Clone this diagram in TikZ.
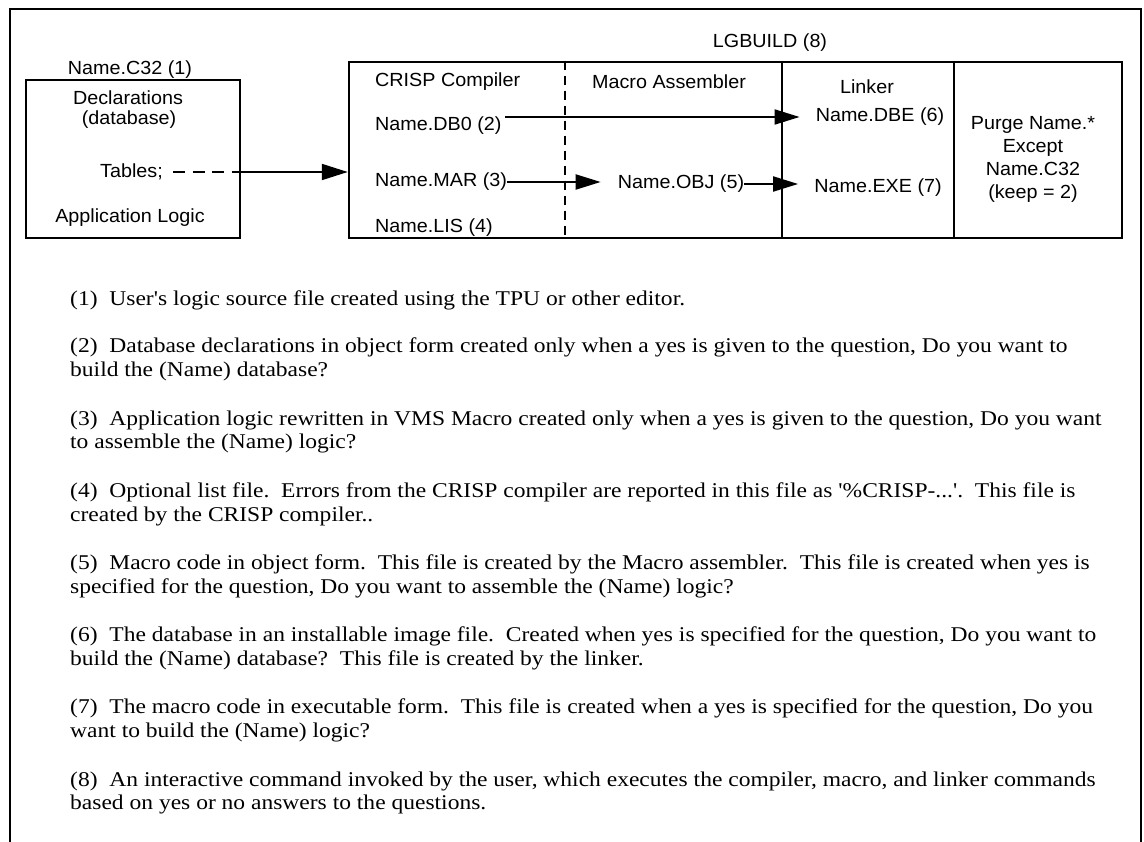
\documentclass[tikz,border=0pt]{standalone}
\usepackage{fontspec}
\usetikzlibrary{arrows.meta}
\newfontfamily\diagfont[FakeStretch=1.04]{Liberation Sans}
\newfontfamily\notefont[FakeStretch=1.12,Ligatures=TeXOff]{Liberation Serif}
\begin{document}
\begin{tikzpicture}[x=1pt,y=-1pt]
\tikzset{
  frame/.style={line width=2.5pt},
  box/.style={draw, line width=2.5pt, inner sep=0pt},
  lbl/.style={font=\diagfont\fontsize{19}{23}\selectfont, inner sep=0pt},
  note/.style={font=\notefont\fontsize{21}{24}\selectfont, inner sep=0pt, anchor=base west},
  arr/.style={line width=2pt, -{Triangle[length=25pt,width=15pt]}},
  arrbig/.style={line width=2pt, -{Triangle[length=26pt,width=16pt]}},
  dashline/.style={line width=2pt, dash pattern=on 12pt off 7.5pt},
  vdash/.style={line width=2pt, dash pattern=on 9pt off 6pt},
  divider/.style={line width=2.5pt}
}
\useasboundingbox (0,0) rectangle (1144,842);
% outer frame (open at bottom)
\draw[frame] (10,845) -- (10,9) -- (1141,9) -- (1141,845);

% source box
\node[lbl] (c32lbl) at (130,70) {Name.C32 (1)};
\node[box, minimum width=214pt, minimum height=158pt] (src) at (133,159) {};
\node[lbl] (decl) at (128,98) {Declarations};
\node[lbl] (dbase) at (129,120) {(database)};
\node[lbl, anchor=east] (tables) at (163,172) {Tables;};
\node[lbl] (applog) at (130,218) {Application Logic};

% LGBUILD box
\node[lbl] (lgb) at (770,43) {LGBUILD (8)};
\node[box, minimum width=773pt, minimum height=176pt] (build) at (735.5,150) {};
\coordinate (d1) at (565,0);
\coordinate (d2) at (782,0);
\coordinate (d3) at (954,0);
\draw[vdash] (build.north -| d1) -- (build.south -| d1);
\draw[divider] (build.north -| d2) -- (build.south -| d2);
\draw[divider] (build.north -| d3) -- (build.south -| d3);

\node[lbl, anchor=west] (crisp) at (375,82) {CRISP Compiler};
\node[lbl, anchor=west] (db0) at (375,126) {Name.DB0 (2)};
\node[lbl, anchor=west] (mar) at (375,182) {Name.MAR (3)};
\node[lbl, anchor=west] (lis) at (375,228) {Name.LIS (4)};
\node[lbl] (masm) at (669,82) {Macro Assembler};
\node[lbl] (linker) at (867,87) {Linker};
\node[lbl] (dbe) at (880,117) {Name.DBE (6)};
\node[lbl] (obj) at (681,184) {Name.OBJ (5)};
\node[lbl] (exe) at (878,188) {Name.EXE (7)};
\node[lbl, align=center] (purge) at (1033,159) {Purge Name.*\\Except\\Name.C32\\(keep = 2)};

% connectors
\draw[dashline] ([xshift=10pt]tables.east) -- (tables.east -| src.east);
\draw[arrbig] (tables.east -| src.east) -- (tables.east -| build.west);
\coordinate (db0out) at (505,117);
\draw[arr] (db0out) -- ([xshift=-16pt]dbe.west);
\draw[arr] (mar.east) -- ([xshift=-17pt]obj.west |- mar.east);
\draw[arr] (obj.east) -- ([xshift=-16pt]exe.west |- obj.east);

% notes
\node[note] (n1) at (70,306) {(1)\ \ User's logic source file created using the TPU or other editor.};
\node[note] (n2a) at (70,353) {(2)\ \ Database declarations in object form created only when a yes is given to the question, Do you want to};
\node[note] (n2b) at (70,377) {build the (Name) database?};
\node[note] (n3a) at (70,425) {(3)\ \ Application logic rewritten in VMS Macro created only when a yes is given to the question, Do you want};
\node[note] (n3b) at (70,449) {to assemble the (Name) logic?};
\node[note] (n4a) at (70,497) {(4)\ \ Optional list file.\ \ Errors from the CRISP compiler are reported in this file as '\%CRISP-...'.\ \ This file is};
\node[note] (n4b) at (70,521) {created by the CRISP compiler..};
\node[note] (n5a) at (70,569) {(5)\ \ Macro code in object form.\ \ This file is created by the Macro assembler.\ \ This file is created when yes is};
\node[note] (n5b) at (70,593) {specified for the question, Do you want to assemble the (Name) logic?};
\node[note] (n6a) at (70,641) {(6)\ \ The database in an installable image file.\ \ Created when yes is specified for the question, Do you want to};
\node[note] (n6b) at (70,665) {build the (Name) database?\ \ This file is created by the linker.};
\node[note] (n7a) at (70,713) {(7)\ \ The macro code in executable form.\ \ This file is created when a yes is specified for the question, Do you};
\node[note] (n7b) at (70,737) {want to build the (Name) logic?};
\node[note] (n8a) at (70,786) {(8)\ \ An interactive command invoked by the user, which executes the compiler, macro, and linker commands};
\node[note] (n8b) at (70,809) {based on yes or no answers to the questions.};
\end{tikzpicture}
\end{document}
